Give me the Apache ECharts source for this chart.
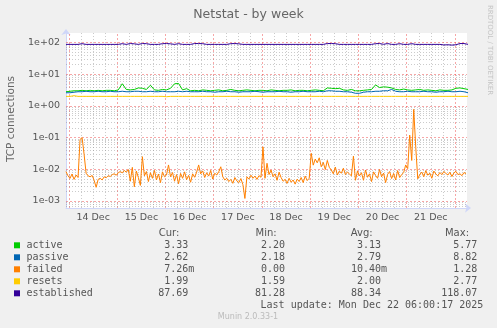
<!DOCTYPE html>
<html><head><meta charset="utf-8">
<script src="https://cdn.jsdelivr.net/npm/echarts@6/dist/echarts.min.js"></script>
<style>html,body{margin:0;padding:0;background:#F0F0F0}#c{width:497px;height:328px}</style>
</head><body><div id="c"></div>
<script>
// ---------- data ----------
const seriesNames = ['active', 'passive', 'failed', 'resets', 'established'];
const seriesColors = ['#00CC00', '#0066B3', '#FF8000', '#FFCC00', '#330099'];
const statHeaders = ['Cur:', 'Min:', 'Avg:', 'Max:'];
const curValues = ['3.33', '2.62', '7.26m', '1.99', '87.69'];
const minValues = ['2.20', '2.18', '0.00', '1.59', '81.28'];
const avgValues = ['3.13', '2.79', '10.40m', '2.00', '88.34'];
const maxValues = ['5.77', '8.82', '1.28', '2.77', '118.07'];
const dayLabels = ['14 Dec', '15 Dec', '16 Dec', '17 Dec', '18 Dec', '19 Dec', '20 Dec', '21 Dec'];
const dayNoonHours = [12, 36, 60, 84, 108, 132, 156, 180];      // hours since 14 Dec 00:00
const midnightHours = [0, 24, 48, 72, 96, 120, 144, 168, 192];
const yTickValues = [1e-3, 1e-2, 1e-1, 1, 10, 100];
const yTickLabels = ['1e-03', '1e-02', '1e-01', '1e+00', '1e+01', '1e+02'];
const startHour = -1.5, endHour = 198;   // 13 Dec 22:30 .. 22 Dec 06:00
const yMin = 6e-4, yMax = 200;

// 2-hour samples
const activeData = [2.8, 2.9, 3.0, 3.0,
  3.1, 3.0, 3.1, 3.0, 3.1, 3.0, 3.1, 3.1, 3.0, 3.2,
  5.0, 3.3, 3.2, 3.3, 3.7, 3.6, 3.3, 4.5, 3.2, 3.1, 3.3, 3.2, 3.6, 5.0, 5.1, 3.2, 3.5, 3.0,
  3.1, 3.0, 3.2, 3.1, 3.0, 3.1, 3.2, 3.0, 3.1, 3.3, 3.1, 3.0, 3.1, 3.2, 3.1, 3.0, 3.1, 3.1, 3.0, 3.2, 3.1, 3.0, 3.1, 3.1, 3.2, 3.0, 3.1, 3.1, 3.0, 3.1, 3.2, 3.1, 3.0,
  3.7, 3.6, 3.5, 3.6,
  3.2, 3.1, 3.3, 3.0, 3.0, 3.1, 3.2, 3.3,
  4.6, 3.8, 4.0, 3.9, 3.7,
  3.3, 3.2, 3.4, 3.2, 3.1, 3.2, 3.3, 3.1, 3.2, 3.1, 3.0, 3.2, 3.1, 3.1, 3.2,
  3.6, 3.7, 3.5, 3.3];
const passiveData = [2.6, 2.6, 2.7, 2.8,
  2.8, 2.9, 2.8, 2.8, 2.9, 2.8, 2.8, 2.9, 2.8, 2.8, 2.9, 2.8, 2.8, 2.9, 2.9, 2.8, 2.8, 2.9, 2.8, 2.8, 2.9, 2.8, 2.8, 2.8, 2.9, 2.8, 2.9, 2.8,
  2.8, 2.8, 2.9, 2.8, 2.8, 2.7, 2.8, 2.8, 2.9, 2.8, 2.8, 2.7, 2.8, 2.8, 2.8, 2.9, 2.8, 2.7, 2.8, 2.8, 2.8, 2.9, 2.8, 2.8, 2.7, 2.8, 2.8, 2.9, 2.8, 2.8, 2.8, 2.9, 2.8,
  3.0, 3.0, 2.9, 2.9, 2.8, 2.8, 2.7,
  2.5, 2.5,
  2.7, 2.8, 2.8, 2.9, 2.9, 3.0, 3.0,
  3.3,
  2.9, 2.8, 2.8, 2.9, 2.8, 2.8, 2.8, 2.9, 2.8, 2.8, 2.7, 2.8, 2.8, 2.9, 2.8, 2.8, 2.9, 2.8, 2.6];
const resetsData = [2.0, 2.0, 2.1,
  2.0, 2.0, 2.0, 2.0, 2.0, 2.0, 2.0, 2.0, 2.0, 2.0, 2.0, 2.0, 2.0, 2.0, 2.0, 2.0, 2.0, 2.0, 2.0, 2.0, 2.0, 2.0,
  1.95,
  2.0, 2.0, 2.0, 2.0, 2.0, 2.0, 2.0, 2.0, 2.0, 2.0, 2.0, 2.0, 2.0, 2.0, 2.0, 2.0, 2.0, 2.0, 2.0, 2.0, 2.0, 2.0, 2.0, 2.0, 2.0,
  2.0, 2.0, 2.0, 2.0, 2.0, 2.0, 2.0, 2.0, 2.0, 2.0, 2.0, 2.0, 2.0, 2.0, 2.0, 2.0, 2.0, 2.0, 2.0, 2.0, 2.0, 2.0, 2.0, 2.0, 2.0,
  2.0, 2.0, 2.0, 2.0, 2.0, 2.0, 2.0, 2.0, 2.0, 2.0, 2.0, 2.0, 2.0, 2.0, 2.0, 2.0, 2.0, 2.0, 2.0, 2.0, 2.0, 2.0, 2.0, 2.0, 2.0];
const establishedData = [87.5, 87.5, 87.5, 87.5,
  92,
  87.5, 87.5, 87.5, 87.5, 87.5, 87.5, 87.5, 87.5, 87.5,
  92, 87.5, 93, 91, 87.5, 93, 92,
  87.5, 87.5, 87.5,
  92, 93, 91,
  87.5, 92, 87.5, 87.5, 87.5,
  93, 93, 92,
  87.5, 87.5, 87.5, 87.5, 87.5, 87.5,
  92, 93, 91,
  87.5, 87.5, 87.5, 87.5, 87.5, 87.5, 87.5, 87.5, 87.5, 87.5, 87.5, 87.5, 87.5, 87.5, 87.5, 87.5, 87.5, 87.5, 87.5, 87.5, 87.5,
  93, 93, 92, 87.5,
  87.5, 87.5, 87.5, 87.5, 87.5, 87.5, 87.5, 87.5,
  92, 93, 88, 93,
  87.5, 87.5, 92, 87.5, 87.5, 92,
  87.5, 87.5, 87.5, 87.5, 87.5, 87.5, 87.5,
  84, 85, 83, 85,
  93, 93, 87.7];
// 1-hour samples
const failedData = [0.0085, 0.0062, 0.0052, 0.0071, 0.0048, 0.0066, 0.0055,
  0.088, 0.1, 0.03, 0.0075,
  0.0062, 0.0058, 0.0064, 0.0045,
  0.0027,
  0.0048, 0.0052, 0.0046,
  0.0058, 0.0054, 0.0063, 0.0059, 0.0068, 0.0072, 0.0065, 0.0078,
  0.0085, 0.0077, 0.0092, 0.0081,
  0.0098, 0.0042, 0.0115, 0.0028, 0.0088, 0.0055, 0.0031, 0.025,
  0.0062, 0.0085, 0.0041, 0.0078, 0.0052, 0.0092, 0.0046, 0.0071, 0.0038, 0.0083, 0.0058, 0.0066,
  0.0137,
  0.0058, 0.0079, 0.0042, 0.0068, 0.0035, 0.0074, 0.0052, 0.0083, 0.0047, 0.0064, 0.0039, 0.0072, 0.0056, 0.0081,
  0.0137,
  0.0072, 0.0089, 0.0055, 0.0078, 0.0061, 0.0092, 0.0049, 0.0075, 0.0066, 0.0084,
  0.012,
  0.0058, 0.0046, 0.0052, 0.0041, 0.0048, 0.0036, 0.0055, 0.0043, 0.0038, 0.0051, 0.0033,
  0.0012,
  0.0058, 0.0049, 0.0065, 0.0052, 0.0061, 0.0048, 0.0063, 0.0056,
  0.051,
  0.0052, 0.0155, 0.0068, 0.0095, 0.0058, 0.0072, 0.0045, 0.0081,
  0.0055, 0.0042, 0.0048, 0.0036, 0.0052, 0.0039, 0.0046, 0.0034, 0.0049, 0.0041, 0.0055, 0.0038, 0.0061, 0.0044, 0.0052,
  0.032,
  0.0135, 0.021, 0.016, 0.023, 0.012, 0.0165, 0.0098, 0.019, 0.0115,
  0.0095, 0.0072, 0.0118, 0.0066, 0.0088, 0.0075, 0.0108, 0.0068, 0.0082, 0.0071, 0.0062,
  0.026, 0.0045,
  0.0088, 0.0062, 0.0078, 0.0045, 0.0095, 0.0056, 0.0072, 0.0041, 0.0083, 0.0064, 0.0052, 0.0098, 0.0058, 0.0076, 0.0038, 0.0069, 0.0085, 0.0051, 0.0074, 0.0046, 0.0091, 0.0055, 0.0068, 0.0079,
  0.0137, 0.0105, 0.12, 0.019, 0.78, 0.05, 0.005,
  0.0068, 0.0082, 0.0058, 0.0091, 0.0065, 0.0076, 0.0052, 0.0088, 0.0071, 0.0062, 0.0079, 0.0068, 0.0085, 0.0074, 0.0066, 0.0081, 0.0059, 0.0077, 0.0086, 0.0068, 0.0072, 0.0063, 0.0079, 0.0073];

// ---------- chart ----------
const chart = echarts.init(document.getElementById('c'), null, {renderer: 'canvas'});
const toPts = (arr, step) => arr.map((v, k) => [startHour + step * k, v]);
const seriesPoints = [toPts(activeData, 2), toPts(passiveData, 2), toPts(failedData, 1), toPts(resetsData, 2), toPts(establishedData, 2)];

const majorLine = {color: 'rgba(240,80,80,0.5)', type: [2, 2], width: 1};
const minorLine = {color: 'rgba(140,140,140,0.45)', type: [1, 2], width: 1};
const axisFont = {fontFamily: 'DejaVu Sans', fontSize: 9.5, color: '#555'};

const gridLines = [];
midnightHours.forEach(h => {
  gridLines.push({xAxis: h, lineStyle: majorLine, label: {show: false}});
  [6, 12, 18].forEach(o => { if (h + o < endHour) gridLines.push({xAxis: h + o, lineStyle: minorLine, label: {show: false}}); });
});
for (let e = -4; e <= 2; e++) {
  for (let m = 2; m <= 9; m++) {
    const v = m * Math.pow(10, e);
    if (v > yMin * 1.01 && v < yMax * 0.99) gridLines.push({yAxis: v, lineStyle: minorLine, label: {show: false}});
  }
}
yTickValues.forEach((v, k) => gridLines.push({
  yAxis: v, lineStyle: majorLine,
  label: Object.assign({show: true, position: 'start', formatter: yTickLabels[k], distance: 6, align: 'right', verticalAlign: 'middle'}, axisFont)
}));
dayNoonHours.forEach((h, k) => gridLines.push({
  xAxis: h, lineStyle: {color: 'rgba(0,0,0,0)', width: 0},
  label: Object.assign({show: true, position: 'start', formatter: dayLabels[k], distance: 5, align: 'center', verticalAlign: 'top', opacity: 1}, axisFont)
}));

const series = seriesNames.map((n, k) => ({
  name: n, type: 'line', data: seriesPoints[k], showSymbol: false, symbol: 'none',
  lineStyle: {color: seriesColors[k], width: 1}, itemStyle: {color: seriesColors[k]},
  z: 3 + k, animation: false, silent: true
}));
series.unshift({
  name: 'grid', type: 'line', data: [], z: 1, silent: true, animation: false,
  markLine: {silent: true, precision: 12, symbol: ['none', 'none'], z: 1, animation: false, label: {show: false}, data: gridLines}
});

// legend / stats
const mono = '10px "DejaVu Sans Mono"';
const prop = '10px "DejaVu Sans"';
const textColor = '#555';
const rowY = [245.7, 257.7, 269.7, 281.7, 293.7];
const colEnds = [188.3, 285, 381, 477.3];
const headerEnds = [179.3, 276.7, 372.7, 469];
const charW = 6.02;
const statCols = [curValues, minValues, avgValues, maxValues];
const mkText = (text, x, y, font, fill, align, extra) => Object.assign({
  type: 'text', x: x, y: y, silent: true,
  style: {text: text, font: font, fill: fill, align: align, textAlign: align, verticalAlign: 'middle', textVerticalAlign: 'middle'}
}, extra || {});
const graphics = [];
statHeaders.forEach((h, c) => graphics.push(mkText(h, headerEnds[c], 233.7, prop, textColor, 'right')));
seriesNames.forEach((n, k) => {
  graphics.push({type: 'rect', silent: true, shape: {x: 14, y: rowY[k] - 3.4, width: 6, height: 6}, style: {fill: seriesColors[k]}});
  graphics.push(mkText(n, 26.5, rowY[k], mono, textColor, 'left'));
  statCols.forEach((col, c) => {
    const s = col[k];
    const hasUnit = /[a-zA-Z]$/.test(s);
    graphics.push(mkText(s, colEnds[c] + (hasUnit ? charW : 0), rowY[k], mono, textColor, 'right'));
  });
});
graphics.push(mkText('Last update: Mon Dec 22 06:00:17 2025', 483.3, 305.7, mono, textColor, 'right'));
graphics.push(mkText('Munin 2.0.33-1', 248, 317, '8px "DejaVu Sans"', '#bbbbbb', 'center'));
graphics.push(mkText('TCP connections', 11, 119, '10.5px "DejaVu Sans"', '#666', 'center', {rotation: Math.PI / 2}));
graphics.push(mkText('RRDTOOL / TOBI OETIKER', 490, 50, '7px "DejaVu Sans"', '#c4c4c4', 'center', {rotation: -Math.PI / 2}));

chart.setOption({
  animation: false,
  backgroundColor: '#F0F0F0',
  title: {text: 'Netstat - by week', left: 'center', top: 3,
    textStyle: {fontFamily: 'DejaVu Sans', fontSize: 12.5, fontWeight: 'normal', color: '#666'}},
  grid: {left: 66, top: 33, width: 401, height: 175, show: true, backgroundColor: '#ffffff', borderWidth: 0, containLabel: false},
  xAxis: {type: 'value', min: startHour, max: endHour,
    axisLine: {show: true, onZero: false, lineStyle: {color: '#CFD6F8', width: 1}, symbol: ['none', 'arrow'], symbolSize: [7, 6], symbolOffset: [0, 4]},
    axisTick: {show: false}, axisLabel: {show: false}, splitLine: {show: false}},
  yAxis: {type: 'log', logBase: 10, min: yMin, max: yMax,
    axisLine: {show: true, onZero: false, lineStyle: {color: '#CFD6F8', width: 1}, symbol: ['none', 'arrow'], symbolSize: [7, 6], symbolOffset: [0, 4]},
    axisTick: {show: false}, axisLabel: {show: false}, splitLine: {show: false}, minorSplitLine: {show: false}},
  graphic: graphics,
  series: series
});
</script></body></html>
